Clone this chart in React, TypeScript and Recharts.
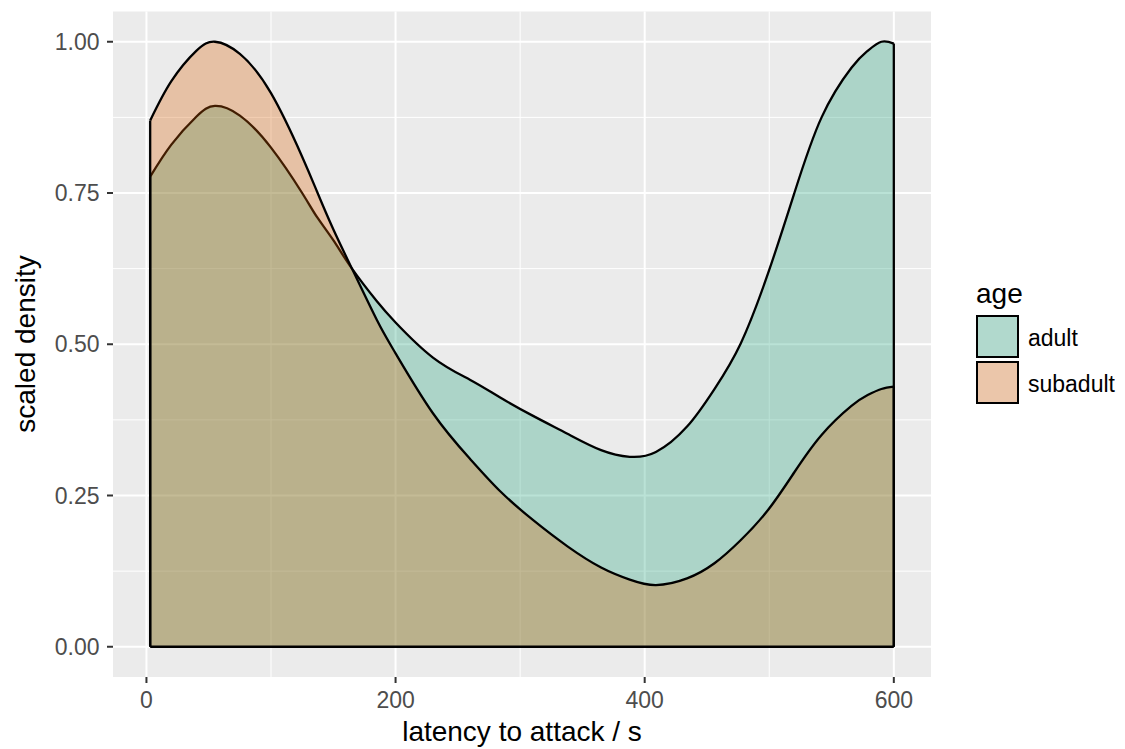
import React from "react";
import { Area, AreaChart, CartesianGrid, ReferenceLine, XAxis, YAxis } from "recharts";

// latency to attack (s), sampled along the density curves
const latency = [
  3, 20, 40, 55, 75, 100, 125, 137, 150, 165, 185, 200, 230, 260, 284, 310, 338,
  365, 388, 409, 434, 456, 477, 499, 520, 542, 566, 579, 590, 600
];

// scaled density per age group
const adult = [
  0.777, 0.83, 0.876, 0.894, 0.878, 0.825, 0.75, 0.71, 0.672, 0.625, 0.571,
  0.536, 0.478, 0.441, 0.412, 0.382, 0.352, 0.325, 0.314, 0.322, 0.364, 0.426,
  0.501, 0.617, 0.749, 0.875, 0.957, 0.985, 1.0, 0.997
];
const subadult = [
  0.87, 0.935, 0.985, 1.0, 0.98, 0.915, 0.81, 0.752, 0.69, 0.625, 0.54, 0.485,
  0.386, 0.31, 0.257, 0.21, 0.166, 0.131, 0.111, 0.102, 0.113, 0.138, 0.176,
  0.226, 0.288, 0.35, 0.398, 0.416, 0.426, 0.43
];

const groups = [
  { key: "adult", color: "#1B9E77", values: adult },
  { key: "subadult", color: "#D95F02", values: subadult }
];

const xTicks = [0, 200, 400, 600];
const xMinor = [100, 300, 500];
const yTicks = [0, 0.25, 0.5, 0.75, 1];
const yMinor = [0.125, 0.375, 0.625, 0.875];

const data = latency.map((x, i) => ({
  x,
  adult: adult[i],
  subadult: subadult[i]
}));

const xMin = latency[0];
const xMax = latency[latency.length - 1];
const span = xMax - xMin;

const font = "'Liberation Sans', Arial, Helvetica, sans-serif";
const lineW = 2.3;

function AgeLegend() {
  return (
    <svg
      width={150}
      height={150}
      style={{ position: "absolute", left: 976, top: 270, fontFamily: font }}
    >
      <text x={0} y={33} fontSize={28} fill="#000">
        age
      </text>
      {groups.map((g, i) => (
        <g key={g.key}>
          <rect x={0} y={45 + i * 46} width={43} height={43} fill="#F2F2F2" />
          <rect
            x={1}
            y={46 + i * 46}
            width={41}
            height={41}
            fill={g.color}
            fillOpacity={0.3}
            stroke="#000"
            strokeWidth={2}
          />
          <text x={52} y={76 + i * 46} fontSize={23} fill="#000">
            {g.key}
          </text>
        </g>
      ))}
    </svg>
  );
}

export default function App() {
  return (
    <div style={{ position: "relative", width: 1125, height: 749, fontFamily: font }}>
      <style>{"body{margin:0}"}</style>
      <AreaChart
        width={1125}
        height={749}
        data={data}
        margin={{ top: 11.5, right: 194, bottom: 0, left: 0 }}
      >
        <CartesianGrid
          fill="#EBEBEB"
          stroke="#FFFFFF"
          strokeWidth={1}
          verticalValues={xMinor}
          horizontalValues={yMinor}
        />
        <CartesianGrid
          stroke="#FFFFFF"
          strokeWidth={2}
          verticalValues={xTicks}
          horizontalValues={yTicks}
        />
        <XAxis
          dataKey="x"
          type="number"
          domain={[xMin - span * 0.05, xMax + span * 0.05]}
          ticks={xTicks}
          height={72}
          axisLine={false}
          tickSize={6}
          tickMargin={9}
          tickLine={{ stroke: "#333333", strokeWidth: 2 }}
          tick={{ fill: "#4D4D4D", fontSize: 23, fontFamily: font }}
          label={{
            content: () => (
              <text x={522} y={741} textAnchor="middle" fontSize={28} fill="#000" fontFamily={font}>
                latency to attack / s
              </text>
            )
          }}
        />
        <YAxis
          type="number"
          domain={[-0.05, 1.05]}
          ticks={yTicks}
          width={113}
          axisLine={false}
          tickSize={6}
          tickMargin={7.5}
          tickLine={{ stroke: "#333333", strokeWidth: 2 }}
          tick={{ fill: "#4D4D4D", fontSize: 23, fontFamily: font }}
          tickFormatter={(v: number) => v.toFixed(2)}
          label={{
            content: () => (
              <text
                transform="translate(35,344) rotate(-90)"
                textAnchor="middle"
                fontSize={28}
                fill="#000"
                fontFamily={font}
              >
                scaled density
              </text>
            )
          }}
        />
        {groups.map((g) => (
          <Area
            key={g.key}
            dataKey={g.key}
            type="natural"
            baseValue={0}
            stroke="#000000"
            strokeWidth={lineW}
            fill={g.color}
            fillOpacity={0.3}
            dot={false}
            activeDot={false}
            isAnimationActive={false}
          />
        ))}
        {groups.map((g) => (
          <ReferenceLine
            key={g.key + "-l"}
            segment={[
              { x: xMin, y: 0 },
              { x: xMin, y: g.values[0] }
            ]}
            stroke="#000"
            strokeWidth={lineW}
          />
        ))}
        {groups.map((g) => (
          <ReferenceLine
            key={g.key + "-r"}
            segment={[
              { x: xMax, y: 0 },
              { x: xMax, y: g.values[g.values.length - 1] }
            ]}
            stroke="#000"
            strokeWidth={lineW}
          />
        ))}
        <ReferenceLine
          segment={[
            { x: xMin, y: 0 },
            { x: xMax, y: 0 }
          ]}
          stroke="#000"
          strokeWidth={lineW}
        />
      </AreaChart>
      <AgeLegend />
    </div>
  );
}
